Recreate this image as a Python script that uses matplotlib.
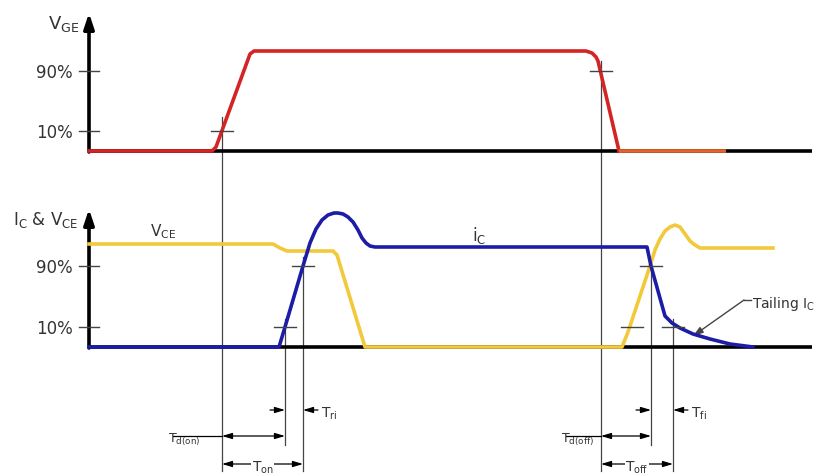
import matplotlib
matplotlib.use("Agg")
import matplotlib.pyplot as plt

plt.rcParams['font.family'] = ['DejaVu Sans']
plt.rcParams['mathtext.fontset'] = 'dejavusans'

# ---- data (time in px along x, level in px along y; y grows downward) ----
vge_t = [89, 212, 216, 250, 254, 586, 592, 596, 598, 619]
vge_v = [152, 152, 148, 55, 52, 52, 54, 58, 62, 152]
vge_tail_t = [619, 726]
vge_tail_v = [152, 152]

ic_t = [89, 279, 285, 303, 310, 316, 322, 328, 334, 338, 343, 348, 353, 358, 362, 366, 370, 375,
        647, 651, 665, 672, 680, 693, 710, 730, 753]
ic_v = [348, 348, 328, 267, 244, 230, 221, 216, 214, 214, 215, 218, 223, 231, 239, 244, 247, 248,
        248, 267, 317, 324, 329, 335, 340, 345, 348]

vce_t = [89, 273, 280, 287, 333, 337, 365, 622, 628, 650, 655, 660, 665, 670, 675, 680,
         685, 690, 695, 700, 773]
vce_v = [245, 245, 249, 252, 252, 256, 348, 348, 333, 267, 251, 240, 232, 228, 226, 228,
         235, 242, 246, 249, 249]

tick_levels_top = [72, 132]
tick_levels_bot = [267, 328]
tick_labels = ['90%', '10%']

fig = plt.figure(figsize=(8.18, 4.77), dpi=100)
ax = fig.add_axes([0, 0, 1, 1])
ax.set_xlim(0, 818)
ax.set_ylim(477, 0)
ax.axis('off')

RED = '#d42424'
ORANGE = '#e4622c'
BLUE = '#1c1ca6'
YELLOW = '#f2c93a'
TXT = '#333333'
THIN = '#444444'

# thin vertical reference lines
vlines = [(222, 118, 472), (601, 62, 472), (285, 320, 446), (303, 258, 472),
          (651, 258, 446), (673, 320, 472)]
for x, y0, y1 in vlines:
    ax.plot([x, x], [y0, y1], color=THIN, lw=0.9, zorder=1)

# axes
for base, top in [(152, 14), (348, 210)]:
    ax.plot([89, 812], [base, base], color='black', lw=2.6, zorder=2, solid_capstyle='butt')
    ax.annotate('', xy=(89, top), xytext=(89, base + 1),
                arrowprops=dict(arrowstyle='-|>,head_length=0.9,head_width=0.3',
                                color='black', lw=2.6, shrinkA=0, shrinkB=0), zorder=2)

for levels in (tick_levels_top, tick_levels_bot):
    for lv, lab in zip(levels, tick_labels):
        ax.plot([79, 99], [lv, lv], color=THIN, lw=1.0, zorder=2)
        ax.text(73, lv + 1, lab, ha='right', va='center', fontsize=12, color=TXT)

# waveforms
ax.plot(vge_t, vge_v, color=RED, lw=2.6, zorder=4, solid_joinstyle='round')
ax.plot(vge_tail_t, vge_tail_v, color=ORANGE, lw=2.6, zorder=4, solid_capstyle='butt')
ax.plot(vce_t, vce_v, color=YELLOW, lw=2.6, zorder=3, solid_joinstyle='round')
ax.plot(ic_t, ic_v, color=BLUE, lw=2.6, zorder=4, solid_joinstyle='round')

# cross marks at crossing points
crosses = [(222, 132), (601, 72), (285, 328), (303, 267), (632, 328), (651, 267), (673, 328)]
for x, y in crosses:
    ax.plot([x - 11, x + 11], [y, y], color=THIN, lw=1.0, zorder=5)

# labels
ax.text(79, 24, r'$\mathrm{V_{GE}}$', fontsize=13, color=TXT, ha='right', va='center')
ax.text(78, 220, r'$\mathrm{I_{C}}$ & $\mathrm{V_{CE}}$', fontsize=12, color=TXT, ha='right', va='center')
ax.text(150, 232, r'$\mathrm{V_{CE}}$', fontsize=11, color=TXT, ha='left', va='center')
ax.text(472, 236, r'$\mathrm{i_{C}}$', fontsize=12, color=TXT, ha='left', va='center')
ax.text(752, 304, r'Tailing $\mathrm{I_{C}}$', fontsize=10, color=TXT, ha='left', va='center')
ax.plot([744, 751], [301, 301], color=THIN, lw=1.0)
ax.annotate('', xy=(693, 337), xytext=(744, 301),
            arrowprops=dict(arrowstyle='-|>,head_length=0.6,head_width=0.2',
                            color=THIN, lw=1.0, shrinkA=0, shrinkB=0))

AP = dict(arrowstyle='-|>,head_length=0.6,head_width=0.18', color='black', lw=0.9,
          shrinkA=0, shrinkB=0)
AP2 = dict(arrowstyle='<|-|>,head_length=0.6,head_width=0.18', color='black', lw=0.9,
           shrinkA=0, shrinkB=0)

def dims(x_d, x_r, x_on, tag_r, tag_d, tag_on, lab_x_d):
    # rise/fall arrows
    ax.annotate('', xy=(x_r, 411), xytext=(x_r - 15, 411), arrowprops=AP)
    ax.annotate('', xy=(x_on, 411), xytext=(x_on + 15, 411), arrowprops=AP)
    ax.text(x_on + 18, 414, tag_r, fontsize=10, color=TXT, ha='left', va='center')
    # delay
    ax.plot([lab_x_d + 5, x_d], [437, 437], color='black', lw=0.9)
    ax.annotate('', xy=(x_d, 437), xytext=(x_r, 437), arrowprops=AP2)
    ax.text(lab_x_d, 440, tag_d, fontsize=9, color=TXT, ha='left', va='center')
    # total
    ax.annotate('', xy=(x_d, 465), xytext=(x_on, 465), arrowprops=AP2)
    ax.text((x_d + x_on) / 2, 468, tag_on, fontsize=10, color=TXT, ha='center', va='center',
            bbox=dict(facecolor='white', edgecolor='none', pad=0.5))

dims(222, 285, 303, r'$\mathrm{T_{ri}}$', r'$\mathrm{T_{d(on)}}$', r'$\mathrm{T_{on}}$', 168)
dims(601, 651, 673, r'$\mathrm{T_{fi}}$', r'$\mathrm{T_{d(off)}}$', r'$\mathrm{T_{off}}$', 561)

fig.savefig('out.png', dpi=100)
